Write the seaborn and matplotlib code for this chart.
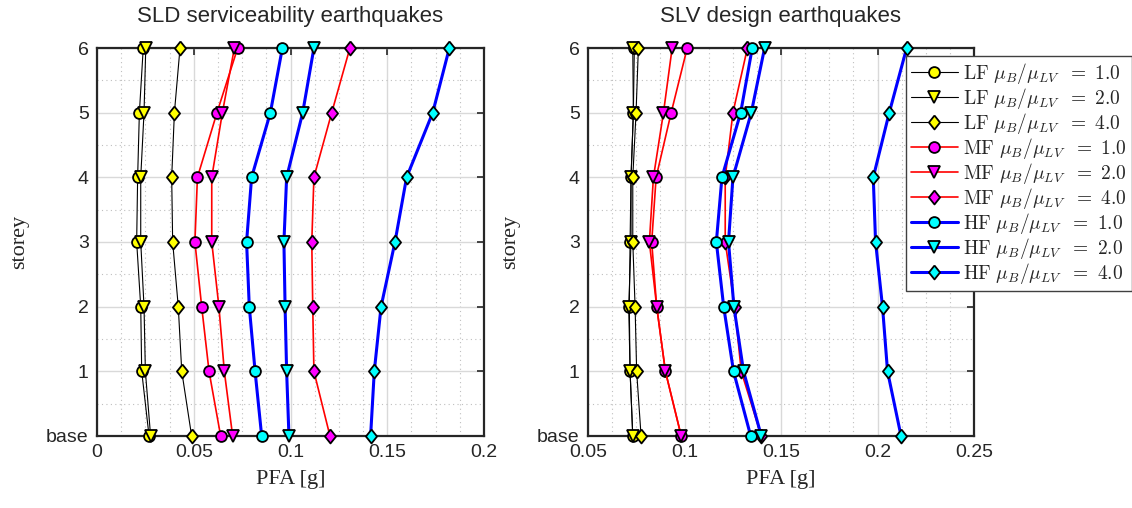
import numpy as np
import pandas as pd
import matplotlib
matplotlib.use("Agg")
import matplotlib.pyplot as plt
import seaborn as sns
from matplotlib.ticker import MultipleLocator, FixedLocator

sns.set_style("white")
plt.rcParams['font.family'] = ['Liberation Sans', 'DejaVu Sans']
plt.rcParams['mathtext.fontset'] = 'cm'

storeys = [0, 1, 2, 3, 4, 5, 6]
storey_labels = ["base", "1", "2", "3", "4", "5", "6"]

# SLD serviceability earthquakes (values listed base -> storey 6)
sld_LF1 = [0.0269, 0.0231, 0.0226, 0.0205, 0.0210, 0.0219, 0.0239]
sld_LF2 = [0.0277, 0.0250, 0.0243, 0.0226, 0.0226, 0.0243, 0.0252]
sld_LF4 = [0.0489, 0.0438, 0.0420, 0.0391, 0.0386, 0.0400, 0.0429]
sld_MF1 = [0.0639, 0.0579, 0.0541, 0.0506, 0.0519, 0.0620, 0.0727]
sld_MF2 = [0.0701, 0.0658, 0.0630, 0.0593, 0.0593, 0.0648, 0.0710]
sld_MF4 = [0.1204, 0.1121, 0.1115, 0.1110, 0.1121, 0.1213, 0.1307]
sld_HF1 = [0.0851, 0.0817, 0.0787, 0.0773, 0.0799, 0.0896, 0.0958]
sld_HF2 = [0.0992, 0.0980, 0.0972, 0.0966, 0.0980, 0.1063, 0.1121]
sld_HF4 = [0.1414, 0.1433, 0.1468, 0.1540, 0.1600, 0.1735, 0.1821]

# SLV design earthquakes
slv_LF1 = [0.0732, 0.0718, 0.0714, 0.0718, 0.0723, 0.0735, 0.0740]
slv_LF2 = [0.0732, 0.0718, 0.0711, 0.0723, 0.0723, 0.0735, 0.0732]
slv_LF4 = [0.0775, 0.0752, 0.0744, 0.0732, 0.0732, 0.0749, 0.0761]
slv_MF1 = [0.0983, 0.0901, 0.0856, 0.0830, 0.0853, 0.0931, 0.1014]
slv_MF2 = [0.0983, 0.0901, 0.0856, 0.0818, 0.0839, 0.0891, 0.0936]
slv_MF4 = [0.1398, 0.1294, 0.1260, 0.1211, 0.1211, 0.1251, 0.1326]
slv_HF1 = [0.1343, 0.1254, 0.1203, 0.1165, 0.1194, 0.1291, 0.1351]
slv_HF2 = [0.1398, 0.1306, 0.1256, 0.1228, 0.1251, 0.1346, 0.1415]
slv_HF4 = [0.2122, 0.2052, 0.2026, 0.1990, 0.1978, 0.2061, 0.2151]

groups = ["LF", "LF", "LF", "MF", "MF", "MF", "HF", "HF", "HF"]
ratios = ["1.0", "2.0", "4.0"] * 3
legend_labels = [r"$\mathrm{%s}\ \mu_B/{\mu_{LV}}\;\ {=}\ %s$" % (g, r) for g, r in zip(groups, ratios)]

sld = [sld_LF1, sld_LF2, sld_LF4, sld_MF1, sld_MF2, sld_MF4, sld_HF1, sld_HF2, sld_HF4]
slv = [slv_LF1, slv_LF2, slv_LF4, slv_MF1, slv_MF2, slv_MF4, slv_HF1, slv_HF2, slv_HF4]

diamond = [(0, 1), (0.8, 0), (0, -1), (-0.8, 0), (0, 1)]
line_colors = ["black"] * 3 + ["red"] * 3 + ["blue"] * 3
line_widths = [0.8] * 3 + [1.2] * 3 + [2.2] * 3
face_colors = ["#ffff00"] * 3 + ["#ff00ff"] * 3 + ["#00ffff"] * 3
markers = ["o", "v", diamond] * 3
msizes = [7.8, 9, 10] * 3

W, H = 1132, 508
fig = plt.figure(figsize=(W / 100, H / 100), dpi=100)
ax1 = fig.add_axes([97 / W, (H - 436) / H, (484 - 97) / W, (436 - 48) / H])
ax2 = fig.add_axes([588 / W, (H - 436) / H, (974 - 588) / W, (436 - 48) / H])

def draw(ax, data):
    for i, vals in enumerate(data):
        df = pd.DataFrame({"PFA": vals, "storey": storeys})
        sns.lineplot(data=df, x="PFA", y="storey", orient="y", sort=False,
                     estimator=None, ax=ax, color=line_colors[i],
                     linewidth=line_widths[i], marker=markers[i],
                     markersize=msizes[i], markerfacecolor=face_colors[i],
                     markeredgecolor="black", markeredgewidth=1.3,
                     label=legend_labels[i], clip_on=False, zorder=3 + i * 0.01)

draw(ax1, sld)
draw(ax2, slv)

def style(ax, xlim, xticks, xticklabels, title):
    ax.set_xlim(*xlim)
    ax.set_ylim(0, 6)
    ax.xaxis.set_major_locator(FixedLocator(xticks))
    ax.set_xticklabels(xticklabels)
    ax.xaxis.set_minor_locator(MultipleLocator(0.0125))
    ax.set_yticks(storeys)
    ax.set_yticklabels(storey_labels)
    ax.yaxis.set_minor_locator(MultipleLocator(0.5))
    ax.grid(True, which="major", color="#d9d9d9", linewidth=1.0, linestyle="-")
    ax.grid(True, which="minor", color="#bfbfbf", linewidth=0.8, linestyle=(0, (1, 3)))
    ax.set_axisbelow(True)
    ax.tick_params(which="major", direction="in", length=5, width=1.2, top=True, right=True,
                   labelsize=14, pad=6, color="#262626")
    ax.tick_params(which="minor", length=0, top=True, right=True)
    for s in ax.spines.values():
        s.set_color("#262626")
        s.set_linewidth(1.6)
    ax.set_title(title, fontsize=16, pad=19, fontfamily="Liberation Sans")
    ax.set_xlabel("PFA [g]", fontsize=16, fontfamily="Liberation Serif", labelpad=6)
    ax.set_ylabel("storey", fontsize=16, fontfamily="Liberation Serif", labelpad=12)
    if ax.get_legend() is not None:
        ax.get_legend().remove()

style(ax1, (0, 0.2), [0, 0.05, 0.1, 0.15, 0.2], ["0", "0.05", "0.1", "0.15", "0.2"],
      "SLD serviceability earthquakes")
style(ax2, (0.05, 0.25), [0.05, 0.1, 0.15, 0.2, 0.25], ["0.05", "0.1", "0.15", "0.2", "0.25"],
      "SLV design earthquakes")

handles, labels = ax2.get_legend_handles_labels()
leg = ax2.legend(handles, labels, loc="upper left",
                 bbox_to_anchor=(906 / W, 1 - 56 / H), bbox_transform=fig.transFigure,
                 fontsize=14, frameon=True, fancybox=False, borderaxespad=0,
                 handlelength=2.4, handletextpad=0.3, labelspacing=0.0,
                 borderpad=0.25, framealpha=1)
leg.get_frame().set_edgecolor("#404040")
leg.get_frame().set_linewidth(1.0)
leg.set_zorder(10)

fig.savefig("out.png", dpi=100)
